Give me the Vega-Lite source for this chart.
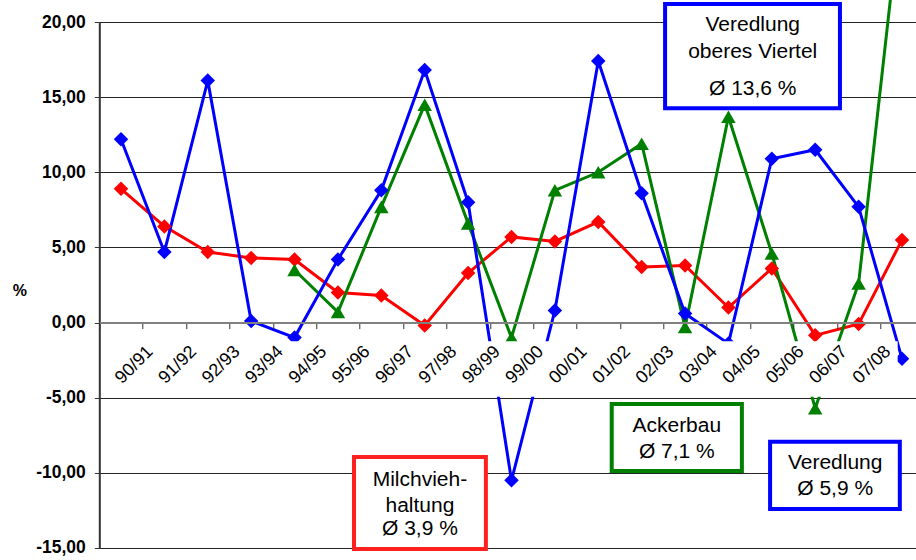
{
  "$schema": "https://vega.github.io/schema/vega-lite/v6.json",
  "width": 824.4,
  "height": 526,
  "autosize": {"type": "none"},
  "padding": {"left": 99.3, "top": 22, "right": 0, "bottom": 12},
  "background": "white",
  "config": {"view": {"stroke": null}, "font": "Liberation Sans"},
  "datasets": {
    "series": [
      {"year": "90/91", "series": "Milchviehhaltung", "value": 8.9},
      {"year": "91/92", "series": "Milchviehhaltung", "value": 6.4},
      {"year": "92/93", "series": "Milchviehhaltung", "value": 4.7},
      {"year": "93/94", "series": "Milchviehhaltung", "value": 4.3},
      {"year": "94/95", "series": "Milchviehhaltung", "value": 4.2},
      {"year": "95/96", "series": "Milchviehhaltung", "value": 2.0},
      {"year": "96/97", "series": "Milchviehhaltung", "value": 1.8},
      {"year": "97/98", "series": "Milchviehhaltung", "value": -0.2},
      {"year": "98/99", "series": "Milchviehhaltung", "value": 3.3},
      {"year": "99/00", "series": "Milchviehhaltung", "value": 5.7},
      {"year": "00/01", "series": "Milchviehhaltung", "value": 5.4},
      {"year": "01/02", "series": "Milchviehhaltung", "value": 6.7},
      {"year": "02/03", "series": "Milchviehhaltung", "value": 3.7},
      {"year": "03/04", "series": "Milchviehhaltung", "value": 3.8},
      {"year": "04/05", "series": "Milchviehhaltung", "value": 1.0},
      {"year": "05/06", "series": "Milchviehhaltung", "value": 3.6},
      {"year": "06/07", "series": "Milchviehhaltung", "value": -0.85},
      {"year": "07/08", "series": "Milchviehhaltung", "value": -0.1},
      {"year": "08/09", "series": "Milchviehhaltung", "value": 5.5},
      {"year": "94/95", "series": "Ackerbau", "value": 3.5},
      {"year": "95/96", "series": "Ackerbau", "value": 0.7},
      {"year": "96/97", "series": "Ackerbau", "value": 7.7},
      {"year": "97/98", "series": "Ackerbau", "value": 14.5},
      {"year": "98/99", "series": "Ackerbau", "value": 6.6},
      {"year": "99/00", "series": "Ackerbau", "value": -1.0},
      {"year": "00/01", "series": "Ackerbau", "value": 8.8},
      {"year": "01/02", "series": "Ackerbau", "value": 10.0},
      {"year": "02/03", "series": "Ackerbau", "value": 11.9},
      {"year": "03/04", "series": "Ackerbau", "value": -0.3},
      {"year": "04/05", "series": "Ackerbau", "value": 13.7},
      {"year": "05/06", "series": "Ackerbau", "value": 4.6},
      {"year": "06/07", "series": "Ackerbau", "value": -5.7},
      {"year": "07/08", "series": "Ackerbau", "value": 2.6},
      {"year": "08/09", "series": "Ackerbau", "value": 28.4},
      {"year": "90/91", "series": "Veredlung", "value": 12.2},
      {"year": "91/92", "series": "Veredlung", "value": 4.7},
      {"year": "92/93", "series": "Veredlung", "value": 16.1},
      {"year": "93/94", "series": "Veredlung", "value": 0.1},
      {"year": "94/95", "series": "Veredlung", "value": -1.0},
      {"year": "95/96", "series": "Veredlung", "value": 4.2},
      {"year": "96/97", "series": "Veredlung", "value": 8.8},
      {"year": "97/98", "series": "Veredlung", "value": 16.8},
      {"year": "98/99", "series": "Veredlung", "value": 8.0},
      {"year": "99/00", "series": "Veredlung", "value": -10.5},
      {"year": "00/01", "series": "Veredlung", "value": 0.8},
      {"year": "01/02", "series": "Veredlung", "value": 17.4},
      {"year": "02/03", "series": "Veredlung", "value": 8.6},
      {"year": "03/04", "series": "Veredlung", "value": 0.6},
      {"year": "04/05", "series": "Veredlung", "value": -1.4},
      {"year": "05/06", "series": "Veredlung", "value": 10.9},
      {"year": "06/07", "series": "Veredlung", "value": 11.5},
      {"year": "07/08", "series": "Veredlung", "value": 7.7},
      {"year": "08/09", "series": "Veredlung", "value": -2.4}
    ],
    "boxes": [
      {"name": "Milchviehhaltung", "x1": 5.87, "x2": 8.91, "value": -8.94, "value2": -15.07, "col": "#FF2020"},
      {"name": "Ackerbau", "x1": 11.81, "x2": 14.81, "value": -5.42, "value2": -9.88, "col": "#008000"},
      {"name": "Veredlung", "x1": 15.46, "x2": 18.45, "value": -7.93, "value2": -12.4, "col": "#0000FF"},
      {"name": "Veredlung oberes Viertel", "x1": 13.04, "x2": 17.07, "value": 21.2, "value2": 14.26, "col": "#0000FF"}
    ],
    "texts": [
      {"xu": 7.39, "value": -10.47, "label": "Milchvieh-"},
      {"xu": 7.39, "value": -12.18, "label": "haltung"},
      {"xu": 7.39, "value": -13.73, "label": "Ø 3,9 %"},
      {"xu": 13.31, "value": -6.88, "label": "Ackerbau"},
      {"xu": 13.31, "value": -8.59, "label": "Ø 7,1 %"},
      {"xu": 16.96, "value": -9.34, "label": "Veredlung"},
      {"xu": 16.96, "value": -11.07, "label": "Ø 5,9 %"},
      {"xu": 15.06, "value": 19.8, "label": "Veredlung"},
      {"xu": 15.06, "value": 18.0, "label": "oberes Viertel"},
      {"xu": 15.06, "value": 15.54, "label": "Ø 13,6 %"}
    ]
  },
  "resolve": {"scale": {"x": "independent"}},
  "layer": [
    {
      "data": {"name": "series"},
      "mark": {"type": "line", "strokeWidth": 3},
      "encoding": {
        "x": {
          "field": "year", "type": "ordinal",
          "scale": {"type": "band", "paddingInner": 0, "paddingOuter": 0,
            "domain": ["90/91","91/92","92/93","93/94","94/95","95/96","96/97","97/98","98/99","99/00","00/01","01/02","02/03","03/04","04/05","05/06","06/07","07/08","08/09"]},
          "axis": {
            "orient": "bottom",
            "title": null, "grid": false,
            "domain": true, "domainColor": "#808080", "domainWidth": 2,
            "ticks": true, "tickBand": "extent", "tickSize": 6, "tickColor": "#333", "tickWidth": 1,
            "offset": -225.4, "zindex": 1,
            "labelAngle": -45, "labelAlign": "center", "labelBaseline": "middle",
            "labelPadding": 36, "labelOffset": 13,
            "labelFontSize": 18, "labelColor": "#000", "labelFont": "Liberation Sans",
            "labelOverlap": false, "labelBound": false,
            "labelExpr": "datum.label === '08/09' ? '' : datum.label"
          }
        },
        "y": {
          "field": "value", "type": "quantitative",
          "scale": {"domain": [-15, 20], "nice": false, "zero": false},
          "axis": {
            "orient": "left",
            "values": [-15, -10, -5, 0, 5, 10, 15, 20],
            "labelExpr": "(datum.value < 0 ? '-' : '') + replace(format(abs(datum.value), '.2f'), '.', ',')",
            "labelFontSize": 17.5, "labelFontWeight": "bold", "labelColor": "#000", "labelFont": "Liberation Sans",
            "labelPadding": 9, "tickSize": 5, "tickColor": "#333",
            "domainColor": "#333", "domainWidth": 2,
            "grid": true, "gridColor": "#222", "gridWidth": 1,
            "title": "%", "titleAngle": 0, "titleFontSize": 16, "titleFontWeight": "bold", "titleFont": "Liberation Sans",
            "titleX": -80, "titleY": 269, "titleAlign": "center", "titleBaseline": "middle", "titleColor": "#000"
          }
        },
        "color": {
          "field": "series", "type": "nominal",
          "scale": {"domain": ["Milchviehhaltung", "Ackerbau", "Veredlung"], "range": ["#FF0000", "#008000", "#0000FF"]},
          "legend": null
        },
        "order": {"value": null}
      }
    },
    {
      "data": {"name": "series"},
      "mark": {"type": "point", "filled": true, "opacity": 1, "size": 210},
      "encoding": {
        "x": {
          "field": "year", "type": "ordinal",
          "scale": {"type": "band", "paddingInner": 0, "paddingOuter": 0,
            "domain": ["90/91","91/92","92/93","93/94","94/95","95/96","96/97","97/98","98/99","99/00","00/01","01/02","02/03","03/04","04/05","05/06","06/07","07/08","08/09"]},
          "axis": null
        },
        "y": {"field": "value", "type": "quantitative"},
        "color": {
          "field": "series", "type": "nominal",
          "scale": {"domain": ["Milchviehhaltung", "Ackerbau", "Veredlung"], "range": ["#FF0000", "#008000", "#0000FF"]},
          "legend": null
        },
        "shape": {
          "field": "series", "type": "nominal",
          "scale": {"domain": ["Milchviehhaltung", "Ackerbau", "Veredlung"], "range": ["diamond", "triangle-up", "diamond"]},
          "legend": null
        }
      }
    },
    {
      "data": {"values": [{}]},
      "mark": {"type": "rect", "fill": "white"},
      "encoding": {
        "x": {"datum": 0.06, "type": "quantitative", "scale": {"domain": [0, 19], "nice": false, "zero": false}, "axis": null},
        "x2": {"datum": 18.4},
        "y": {"datum": -1.25, "type": "quantitative"},
        "y2": {"datum": -4.93}
      }
    },
    {
      "data": {"name": "boxes"},
      "mark": {"type": "rect", "fill": "white", "strokeWidth": 4},
      "encoding": {
        "x": {"field": "x1", "type": "quantitative", "scale": {"domain": [0, 19], "nice": false, "zero": false}, "axis": null},
        "x2": {"field": "x2"},
        "y": {"field": "value", "type": "quantitative"},
        "y2": {"field": "value2"},
        "stroke": {"field": "col", "type": "nominal", "scale": null}
      }
    },
    {
      "data": {"name": "texts"},
      "mark": {"type": "text", "fontSize": 21, "font": "Liberation Sans", "color": "#000", "align": "center", "baseline": "middle"},
      "encoding": {
        "x": {"field": "xu", "type": "quantitative", "scale": {"domain": [0, 19], "nice": false, "zero": false}, "axis": null},
        "y": {"field": "value", "type": "quantitative"},
        "text": {"field": "label", "type": "nominal"}
      }
    }
  ]
}
